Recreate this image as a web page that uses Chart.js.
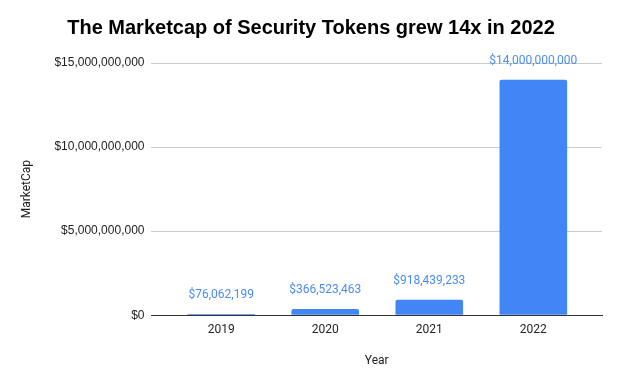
<!DOCTYPE html>
<html>
<head>
<meta charset="utf-8">
<script src="https://cdn.jsdelivr.net/npm/chart.js@4"></script>
<style>
  html, body { margin: 0; padding: 0; background: #fff; }
  #wrap { width: 622px; height: 385px; }
</style>
</head>
<body>
<div id="wrap"><canvas id="capChart" width="622" height="385"></canvas></div>
<script>
const years = ["2019", "2020", "2021", "2022"]
const marketCap = [76062199, 366523463, 918439233, 14000000000]
const yTicks = [0, 5000000000, 10000000000, 15000000000]

const money = v => '$' + Number(v).toLocaleString('en-US')

// value labels above each bar
const barLabels = {
  id: 'barLabels',
  afterDatasetsDraw(chart) {
    const ctx = chart.ctx
    const meta = chart.getDatasetMeta(0)
    ctx.save()
    ctx.font = '12px Roboto'
    ctx.fillStyle = '#4a8cf5'
    ctx.textAlign = 'center'
    ctx.textBaseline = 'middle'
    meta.data.forEach((bar, i) => {
      ctx.fillText(money(marketCap[i]), bar.x, bar.y - 19)
    })
    ctx.restore()
  }
}

// linear x axis so the categories can sit inset from the plot edges like the original
new Chart(document.getElementById('capChart'), {
  type: 'bar',
  data: {
    datasets: [{
      label: 'MarketCap',
      data: marketCap.map((v, i) => ({ x: i, y: v })),
      backgroundColor: '#4285f4',
      borderRadius: { topLeft: 2, topRight: 2 },
      borderSkipped: 'bottom',
      categoryPercentage: 0.65,
      barPercentage: 1
    }]
  },
  plugins: [barLabels],
  options: {
    responsive: false,
    animation: false,
    layout: { padding: { left: 20, right: 20, top: 0, bottom: 13 } },
    plugins: {
      legend: { display: false },
      tooltip: { enabled: false },
      title: {
        display: true,
        text: 'The Marketcap of Security Tokens grew 14x in 2022',
        color: '#000',
        font: { family: 'Liberation Sans', size: 20, weight: 'bold' },
        padding: { top: 16, bottom: 23 }
      }
    },
    scales: {
      x: {
        type: 'linear',
        offset: false,
        min: -0.67,
        max: 3.66,
        afterBuildTicks(axis) { axis.ticks = years.map((y, i) => ({ value: i })) },
        grid: { display: false, drawTicks: false },
        border: { color: '#333', width: 1 },
        ticks: {
          color: '#222', font: { family: 'Roboto', size: 12 }, padding: 8,
          callback: v => years[v]
        },
        title: {
          display: true, text: 'Year', color: '#222',
          font: { family: 'Roboto', size: 12 }, padding: { top: 8, bottom: 4 }
        }
      },
      y: {
        min: 0,
        max: 15000000000,
        afterBuildTicks(axis) { axis.ticks = yTicks.map(v => ({ value: v })) },
        grid: { color: '#cccccc', drawTicks: false },
        border: { display: false },
        ticks: {
          color: '#222', padding: 7,
          font: { family: 'Liberation Sans', size: 12 },
          callback: v => money(v)
        },
        title: {
          display: true, text: 'MarketCap', color: '#222',
          font: { family: 'Roboto', size: 12 }, padding: { top: 0, bottom: 13 }
        }
      }
    }
  }
})
</script>
</body>
</html>
